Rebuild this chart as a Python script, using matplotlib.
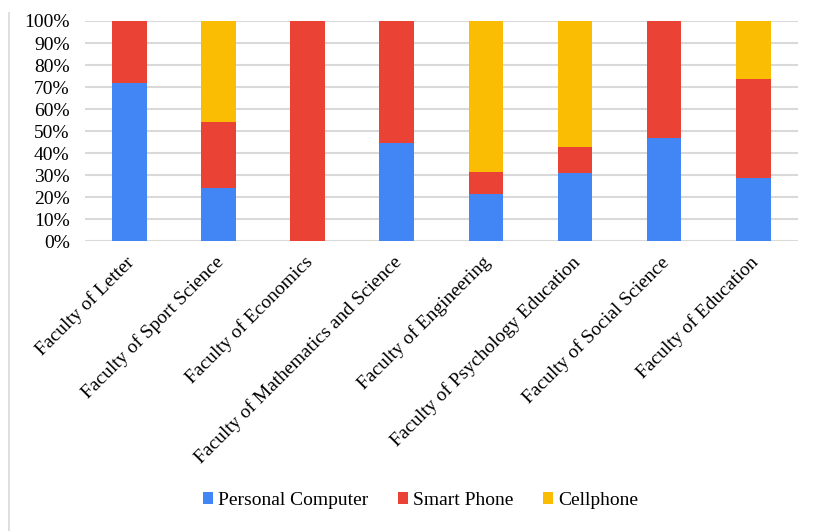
import numpy as np
import matplotlib.pyplot as plt
import matplotlib.transforms as mtransforms
from matplotlib.lines import Line2D

plt.rcParams['font.family'] = ['Liberation Serif', 'DejaVu Serif']

faculties = ['Faculty of Letter', 'Faculty of Sport Science', 'Faculty of Economics',
             'Faculty of Mathematics and Science', 'Faculty of Engineering',
             'Faculty of Psychology Education', 'Faculty of Social Science',
             'Faculty of Education']
personal_computer = [72, 24, 0, 44.5, 21.5, 31, 47, 28.5]
smart_phone = [28, 30, 100, 55.5, 10, 11.7, 53, 45]
cellphone = [0, 46, 0, 0, 68.5, 57.3, 0, 26.5]
series_names = ['Personal Computer', 'Smart Phone', 'Cellphone']
colors = ['#4285F4', '#EA4335', '#FBBC04']

fig = plt.figure(figsize=(8.14, 5.31), dpi=100)
ax = fig.add_axes([0.1044, 0.5456, 0.8756, 0.4149])

x = np.arange(len(faculties))
bottom = np.zeros(len(faculties))
for vals, name, col in zip([personal_computer, smart_phone, cellphone], series_names, colors):
    vals = np.array(vals, dtype=float)
    ax.bar(x, vals, width=0.39, bottom=bottom, color=col, label=name, zorder=3)
    bottom += vals

ax.set_xlim(-0.5, len(faculties) - 0.5)
ax.set_ylim(0, 100)
ax.set_yticks(np.arange(0, 101, 10))
ax.set_yticklabels([f'{v}%' for v in range(0, 101, 10)], fontsize=14)
ax.yaxis.grid(True, color='#d9d9d9', linewidth=1.5, zorder=0)
ax.tick_params(axis='both', length=0)
ax.tick_params(axis='y', pad=11)
for s in ax.spines.values():
    s.set_visible(False)

ax.set_xticks(x)
ax.set_xticklabels(faculties, rotation=45, ha='right', va='top',
                   rotation_mode='anchor', fontsize=14)
offset = mtransforms.ScaledTranslation(-4 / 100, -7 / 100, fig.dpi_scale_trans)
for lbl in ax.get_xticklabels():
    lbl.set_transform(lbl.get_transform() + offset)

fig.legend(loc='center', bbox_to_anchor=(0.5166, 0.057), ncol=3, frameon=False,
           fontsize=14, handlelength=0.55, handleheight=0.55, handletextpad=0.25,
           columnspacing=1.5)

# thin frame line on the left edge
fig.add_artist(Line2D([0.011, 0.011], [0.0, 0.975], transform=fig.transFigure,
                      color='#d9d9d9', linewidth=1.2))

fig.savefig('out.png', dpi=100, facecolor='white')
